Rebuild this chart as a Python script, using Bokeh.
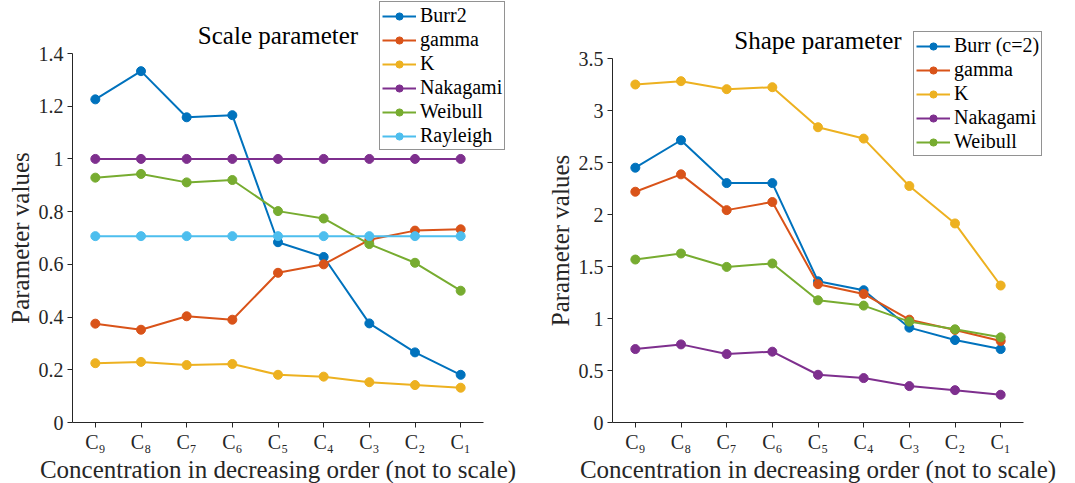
import math
from bokeh.plotting import figure
from bokeh.layouts import row, column
from bokeh.models import Range1d, FixedTicker, Legend, LegendItem, Label
from bokeh.embed import file_html
from bokeh.resources import INLINE

# Concentration levels, highest first
categories = ["C₉", "C₈", "C₇", "C₆", "C₅", "C₄", "C₃", "C₂", "C₁"]
positions = [1, 2, 3, 4, 5, 6, 7, 8, 9]

# Scale parameter estimates
scale_burr2 = [1.226, 1.333, 1.158, 1.166, 0.684, 0.628, 0.376, 0.266, 0.181]
scale_gamma = [0.375, 0.352, 0.403, 0.390, 0.568, 0.600, 0.693, 0.728, 0.733]
scale_k = [0.225, 0.230, 0.218, 0.222, 0.181, 0.174, 0.153, 0.142, 0.132]
scale_nakagami = [1.0, 1.0, 1.0, 1.0, 1.0, 1.0, 1.0, 1.0, 1.0]
scale_weibull = [0.929, 0.943, 0.911, 0.920, 0.802, 0.774, 0.677, 0.606, 0.500]
scale_rayleigh = [0.7071] * 9

# Shape parameter estimates
shape_burr = [2.450, 2.714, 2.302, 2.302, 1.358, 1.272, 0.912, 0.793, 0.706]
shape_gamma = [2.219, 2.386, 2.042, 2.120, 1.330, 1.236, 0.989, 0.890, 0.784]
shape_k = [3.250, 3.282, 3.205, 3.224, 2.839, 2.730, 2.274, 1.914, 1.317]
shape_nakagami = [0.706, 0.751, 0.658, 0.681, 0.459, 0.427, 0.350, 0.311, 0.267]
shape_weibull = [1.567, 1.625, 1.496, 1.529, 1.175, 1.124, 0.970, 0.896, 0.819]

scale_ticks = [0, 0.2, 0.4, 0.6, 0.8, 1.0, 1.2, 1.4]
shape_ticks = [0, 0.5, 1.0, 1.5, 2.0, 2.5, 3.0, 3.5]

X_LABEL = "Concentration in decreasing order (not to scale)"
Y_LABEL = "Parameter values"

BLUE, ORANGE, YELLOW, PURPLE, GREEN, CYAN = (
    "#0072BD", "#D95319", "#EDB120", "#7E2F8E", "#77AC30", "#4DBEEE")

FONT = "'Liberation Serif', serif"
AXIS_COLOR = "#262626"

AXES_LEFT = 72        # x of the y axis inside a panel
AXES_W = 411          # pixel width of the axis span 0.5 .. 9.5
AXES_BOTTOM = 422     # y of the x axis
PANEL_H = 483
YLAB_W = 34           # strip holding the y-axis title
XLAB_H = 29           # strip holding the x-axis title
XLAB_Y = 468          # vertical centre of the x-axis title


def blank(width, height):
    f = figure(frame_width=width, frame_height=height, min_border=0,
               x_range=Range1d(0, 1), y_range=Range1d(0, 1),
               x_axis_location=None, y_axis_location=None,
               output_backend="svg", toolbar_location=None,
               outline_line_color=None, border_fill_color="white")
    f.grid.visible = False
    return f


def make_panel(title, ymax, yticks, series, legend_loc, panel_w, axes_top, title_y):
    # The frame reaches the top and right edges so the legend and title
    # can sit above/right of the axis span; axis bounds keep the lines short.
    frame_w = panel_w - AXES_LEFT
    frame_h = AXES_BOTTOM
    axes_h = frame_h - axes_top
    x_end = 0.5 + 9.0 * frame_w / AXES_W
    y_end = ymax * frame_h / axes_h
    main_h = PANEL_H - XLAB_H

    p = figure(frame_width=frame_w, frame_height=frame_h,
               min_border_left=AXES_LEFT - YLAB_W, min_border_right=0,
               min_border_top=0, min_border_bottom=main_h - frame_h,
               x_range=Range1d(0.5, x_end), y_range=Range1d(0, y_end),
               output_backend="svg", toolbar_location=None,
               background_fill_color="white", border_fill_color="white",
               outline_line_color=None)
    p.grid.visible = False

    p.xaxis.ticker = FixedTicker(ticks=positions)
    p.xaxis.major_label_overrides = {pos: lab for pos, lab in zip(positions, categories)}
    p.xaxis.bounds = (0.5, 9.5)
    p.yaxis.ticker = FixedTicker(ticks=yticks)
    p.yaxis.major_label_overrides = {t: f"{t:g}" for t in yticks}
    p.yaxis.bounds = (0, ymax)

    for ax in (p.xaxis[0], p.yaxis[0]):
        ax.axis_line_color = AXIS_COLOR
        ax.axis_line_width = 1
        ax.major_tick_line_color = AXIS_COLOR
        ax.major_tick_in = 0
        ax.major_tick_out = 5
        ax.minor_tick_line_color = None
        ax.major_label_text_font = FONT
        ax.major_label_text_font_size = "20px"
        ax.major_label_text_color = AXIS_COLOR
    p.xaxis.major_label_standoff = 3
    p.yaxis.major_label_standoff = 4

    p.add_layout(Label(x=5, y=frame_h - title_y, x_units="data", y_units="screen",
                       text=title, text_font=FONT, text_font_size="25px",
                       text_color="black", text_align="center",
                       text_baseline="middle"))

    items = []
    for name, vals, color in series:
        ln = p.line(positions, vals, line_color=color, line_width=2)
        sc = p.scatter(positions, vals, size=9, fill_color=color, line_color=color)
        items.append(LegendItem(label=name, renderers=[ln, sc]))

    legend = Legend(items=items, location=legend_loc, margin=0, padding=2,
                    spacing=1, glyph_width=34, glyph_height=18, label_height=18,
                    label_standoff=4, label_text_font=FONT,
                    label_text_font_size="20px", label_text_color="black",
                    border_line_color=AXIS_COLOR, border_line_width=1,
                    background_fill_color="white", background_fill_alpha=1)
    p.add_layout(legend, "center")

    # y-axis title, centred on the axis span
    ylab = blank(YLAB_W, main_h)
    axes_mid = axes_top + axes_h / 2
    ylab.add_layout(Label(x=20, y=main_h - axes_mid, x_units="screen",
                          y_units="screen", angle=math.pi / 2, text=Y_LABEL,
                          text_font=FONT, text_font_size="25px",
                          text_color=AXIS_COLOR, text_align="center",
                          text_baseline="middle"))

    # x-axis title, centred under the axis span
    xlab = blank(panel_w, XLAB_H)
    xlab.add_layout(Label(x=AXES_LEFT + AXES_W / 2, y=PANEL_H - XLAB_Y,
                          x_units="screen", y_units="screen", text=X_LABEL,
                          text_font=FONT, text_font_size="25px",
                          text_color=AXIS_COLOR, text_align="center",
                          text_baseline="middle"))

    return column(row(ylab, p, spacing=0), xlab, spacing=0)


left = make_panel(
    "Scale parameter", 1.4, scale_ticks,
    [("Burr2", scale_burr2, BLUE), ("gamma", scale_gamma, ORANGE),
     ("K", scale_k, YELLOW), ("Nakagami", scale_nakagami, PURPLE),
     ("Weibull", scale_weibull, GREEN), ("Rayleigh", scale_rayleigh, CYAN)],
    (307, 272), 540, 53, 35)

right = make_panel(
    "Shape parameter", 3.5, shape_ticks,
    [("Burr (c=2)", shape_burr, BLUE), ("gamma", shape_gamma, ORANGE),
     ("K", shape_k, YELLOW), ("Nakagami", shape_nakagami, PURPLE),
     ("Weibull", shape_weibull, GREEN)],
    (301, 266), 535, 58, 40)

layout = row(left, right, spacing=0)
open("out.html", "w").write(file_html(layout, INLINE))
